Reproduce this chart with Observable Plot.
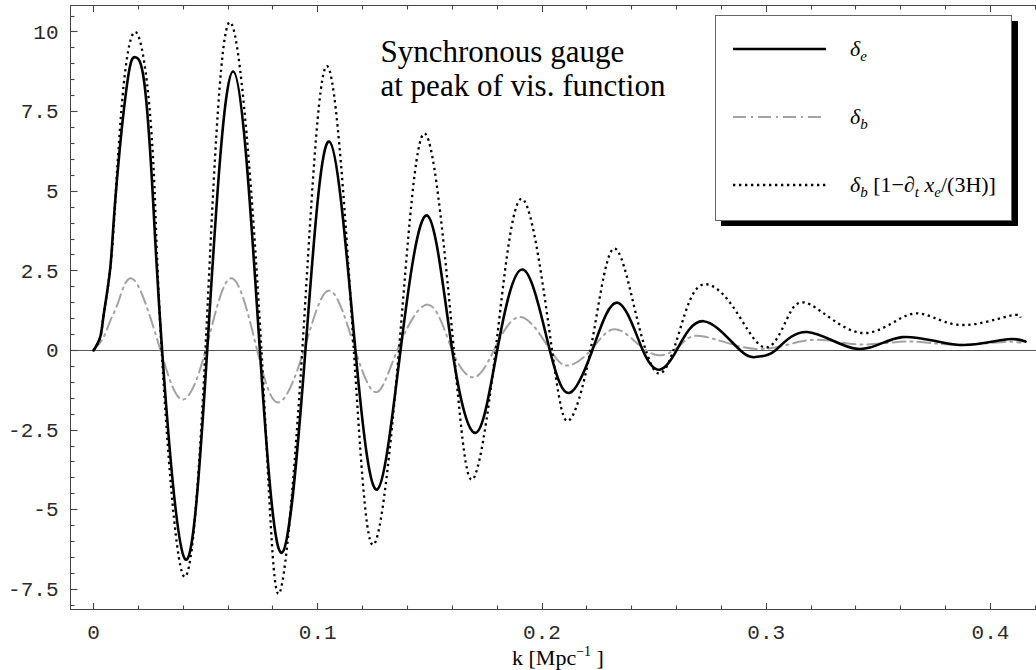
<!DOCTYPE html>
<html>
<head>
<meta charset="utf-8">
<script src="https://cdn.jsdelivr.net/npm/d3@7"></script>
<script src="https://cdn.jsdelivr.net/npm/@observablehq/plot@0.6"></script>
<style>
  html, body { margin: 0; padding: 0; background: #fff; }
  svg { display: block; }
</style>
</head>
<body>
<div id="chart"></div>
<script>
// ---- data ----
const kE = [0, 0.003, 0.0046, 0.0075, 0.0098, 0.0150, 0.0187, 0.0227, 0.0265, 0.0306, 0.0407, 0.0507, 0.0623, 0.0742, 0.0841, 0.0945, 0.1052, 0.1168, 0.1266, 0.1369, 0.1488, 0.1600, 0.1707, 0.1800, 0.1915, 0.2035, 0.2124, 0.2224, 0.2337, 0.2450, 0.2528, 0.2600, 0.2720, 0.2885, 0.2967, 0.3040, 0.3183, 0.3405, 0.3606, 0.3851, 0.4060, 0.4156];
const vE = [0, 0.42, 1.15, 2.6, 4.8, 8.38, 9.21, 8.38, 4.8, 0, -6.54, 0, 8.76, 0, -6.35, 0, 6.56, 0, -4.36, 0, 4.24, 0, -2.58, 0, 2.54, 0, -1.33, 0, 1.5, 0, -0.6, 0, 0.92, 0, -0.19, 0, 0.58, 0.05, 0.42, 0.18, 0.34, 0.28];
const kB = [0, 0.0045, 0.0075, 0.0113, 0.0183, 0.0299, 0.0396, 0.0500, 0.0614, 0.0730, 0.0825, 0.0938, 0.1052, 0.1168, 0.1262, 0.1354, 0.1492, 0.1600, 0.1696, 0.1785, 0.1904, 0.2038, 0.2120, 0.2216, 0.2314, 0.2417, 0.2520, 0.2615, 0.2715, 0.2960, 0.3197, 0.3405, 0.3628, 0.3836, 0.4044, 0.4134];
const vB = [0, 0.42, 0.94, 1.57, 2.2, 0, -1.54, 0, 2.27, 0, -1.63, 0, 1.88, 0, -1.31, 0, 1.44, 0, -0.84, 0, 1.05, 0, -0.47, 0, 0.66, 0.27, -0.15, 0.16, 0.45, 0.05, 0.33, 0.19, 0.28, 0.18, 0.26, 0.25];
const kD = [0, 0.003, 0.0046, 0.0075, 0.0098, 0.0135, 0.0187, 0.0239, 0.0272, 0.0304, 0.0400, 0.0499, 0.0608, 0.0749, 0.0826, 0.0931, 0.1042, 0.1161, 0.1249, 0.1362, 0.1478, 0.1607, 0.1690, 0.1793, 0.1912, 0.2045, 0.2120, 0.2216, 0.2314, 0.2417, 0.2520, 0.2615, 0.2707, 0.2848, 0.2990, 0.3093, 0.3197, 0.3428, 0.3650, 0.3850, 0.4080, 0.4134];
const vD = [0, 0.42, 1.15, 2.6, 4.8, 8.37, 10.0, 8.37, 5.1, 0, -7.06, 0, 10.31, 0, -7.64, 0, 8.93, 0, -6.1, 0, 6.81, 0, -4.05, 0, 4.76, 0, -2.2, 0, 3.17, 1.2, -0.72, 0.65, 2.04, 1.41, 0.1, 1.0, 1.44, 0.55, 1.15, 0.81, 1.08, 1.03];

const xMajor = [0, 0.1, 0.2, 0.3, 0.4];
const xLabels = ["0", "0.1", "0.2", "0.3", "0.4"];
const xMinor = d3.range(0, 22).map(i => +(i * 0.02).toFixed(2)).filter(v => !xMajor.includes(v));
const yMajor = [-7.5, -5, -2.5, 0, 2.5, 5, 7.5, 10];
const yLabels = ["-7.5", "-5", "-2.5", "0", "2.5", "5", "7.5", "10"];
const yMinor = d3.range(0, 38).map(i => -8 + i * 0.5).filter(v => !yMajor.includes(v));

const annotation = "Synchronous gauge\nat peak of vis. function";
const xTitle = ["k [Mpc", "\u22121", " ]"];
const legendItems = [
  { key: "e", parts: [["δ", "i"], ["e", "sub"]] },
  { key: "b", parts: [["δ", "i"], ["b", "sub"]] },
  { key: "d", parts: [["δ", "i"], ["b", "sub"], [" [1\u2212", "r"], ["∂", "i"], ["t", "sub"], [" x", "i"], ["e", "sub"], ["/(3H)]", "r"]] }
];

const rows = (k, v) => k.map((x, i) => ({ k: x, v: v[i] }));

const W = 1036, H = 670;
const mL = 70, mR = 0, mT = 5, mB = 61;
const xDomain = [-0.010256, 0.42051];
const yDomain = [-8.132, 10.832];

const serif = "'Liberation Serif', 'Times New Roman', Times, serif";
const mono = "'Liberation Mono', 'Courier New', Courier, monospace";
const frameColor = "#444";

const lineStyles = {
  e: { stroke: "#000", strokeWidth: 2.6, strokeDasharray: null },
  b: { stroke: "#a2a2a2", strokeWidth: 2, strokeDasharray: "13,5,2,5" },
  d: { stroke: "#000", strokeWidth: 2.3, strokeDasharray: "2.3,3.7" }
};

const plot = Plot.plot({
  width: W, height: H,
  marginLeft: mL, marginRight: mR, marginTop: mT, marginBottom: mB,
  x: { domain: xDomain },
  y: { domain: yDomain },
  style: { background: "#fff", overflow: "visible" },
  marks: [
    Plot.ruleY([0], { stroke: "#555", strokeWidth: 1 }),
    Plot.line(rows(kB, vB), { x: "k", y: "v", curve: "natural", ...lineStyles.b }),
    Plot.line(rows(kD, vD), { x: "k", y: "v", curve: "natural", ...lineStyles.d, strokeLinecap: "butt" }),
    Plot.line(rows(kE, vE), { x: "k", y: "v", curve: "natural", ...lineStyles.e }),
    Plot.axisX(xMajor, { anchor: "bottom", tickSize: 0, tickPadding: 15, tickFormat: d => xLabels[xMajor.indexOf(d)], fontFamily: mono, fontSize: 21, fill: "#2a2a2a", label: null }),
    Plot.axisY(yMajor, { anchor: "left", tickSize: 0, tickPadding: 12, tickFormat: d => yLabels[yMajor.indexOf(d)], fontFamily: mono, fontSize: 21, fill: "#2a2a2a", label: null }),
    Plot.frame({ stroke: frameColor, strokeWidth: 1 }),
    Plot.text([annotation], { text: d => d, frameAnchor: "top-left", textAnchor: "start", lineAnchor: "top", lineHeight: 1.1, dx: 310, dy: 32, fontFamily: serif, fontSize: 31, fill: "#000" })
  ]
});

document.getElementById("chart").appendChild(plot);

const svg = d3.select(plot);

// ---- inward frame ticks (same domain/range as the Plot scales) ----
const tx = d3.scaleLinear().domain(xDomain).range([mL, W - mR]);
const ty = d3.scaleLinear().domain(yDomain).range([H - mB, mT]);
const fL = mL + 0.5, fB = H - mB + 0.5, fT = mT + 0.5;
const majLen = 6.5, minLen = 4;
const segs = [];
[[xMajor, majLen], [xMinor, minLen]].forEach(([vals, len]) => {
  vals.forEach(v => {
    const px = Math.round(tx(v)) + 0.5;
    segs.push([px, fB, px, fB - len]);
    segs.push([px, fT, px, fT + len]);
  });
});
[[yMajor, majLen + 0.5], [yMinor, minLen]].forEach(([vals, len]) => {
  vals.forEach(v => {
    const py = Math.round(ty(v)) + 0.5;
    segs.push([fL, py, fL + len, py]);
  });
});
svg.append("g").attr("class", "frame-ticks")
  .selectAll("line").data(segs).join("line")
  .attr("x1", s => s[0]).attr("y1", s => s[1]).attr("x2", s => s[2]).attr("y2", s => s[3])
  .attr("stroke", frameColor).attr("stroke-width", 1.1);

// ---- legend (framed box with shadow) and x-axis title ----
const lg = svg.append("g").attr("class", "legend").attr("text-anchor", "start");
lg.append("rect").attr("x", 721).attr("y", 21).attr("width", 297).attr("height", 205).attr("fill", "#000");
lg.append("rect").attr("x", 715.5).attr("y", 15.5).attr("width", 296).attr("height", 205).attr("fill", "#fff").attr("stroke", "#666").attr("stroke-width", 1);

const rowY = [49, 117, 185];
legendItems.forEach((it, i) => {
  const st = lineStyles[it.key];
  lg.append("line")
    .attr("x1", 733).attr("x2", 826).attr("y1", rowY[i]).attr("y2", rowY[i])
    .attr("stroke", st.stroke).attr("stroke-width", st.strokeWidth)
    .attr("stroke-dasharray", st.strokeDasharray);
  const t = lg.append("text").attr("x", 850).attr("y", rowY[i] + 7)
    .attr("text-anchor", "start")
    .attr("font-family", serif).attr("font-size", 22).attr("fill", "#000");
  let shifted = false;
  it.parts.forEach(([s, kind]) => {
    const sp = t.append("tspan").text(s);
    if (kind === "sub") {
      sp.attr("font-style", "italic").attr("font-size", 15).attr("dy", shifted ? 0 : 5);
      shifted = true;
    } else {
      sp.attr("font-style", kind === "i" ? "italic" : "normal").attr("dy", shifted ? -5 : 0);
      shifted = false;
    }
  });
});

const xt = svg.append("text").attr("x", 558).attr("y", 665).attr("text-anchor", "middle")
  .attr("font-family", serif).attr("font-size", 22).attr("fill", "#000");
xt.append("tspan").text(xTitle[0]);
xt.append("tspan").text(xTitle[1]).attr("font-size", 14).attr("dy", -9);
xt.append("tspan").text(xTitle[2]).attr("dy", 9);
</script>
</body>
</html>
